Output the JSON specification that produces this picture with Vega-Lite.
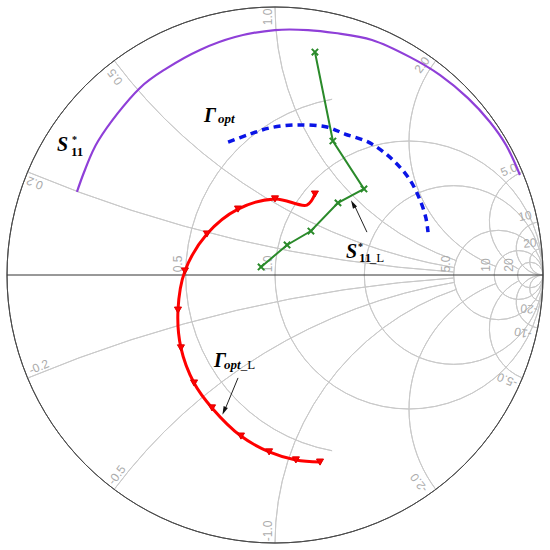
{
  "$schema": "https://vega.github.io/schema/vega-lite/v6.json",
  "width": 536,
  "height": 536,
  "autosize": {"type": "none"},
  "padding": 7,
  "background": "white",
  "config": {"view": {"stroke": null}},
  "datasets": {
    "grid": [
      {"name": "r0.5", "cx": 0.3333, "cy": 0, "rad": 0.6667, "t1": -169.6, "t2": -10.4},
      {"name": "r1", "cx": 0.5, "cy": 0, "rad": 0.5, "t1": 0, "t2": 360},
      {"name": "r2", "cx": 0.6667, "cy": 0, "rad": 0.3333, "t1": 0, "t2": 360},
      {"name": "r5", "cx": 0.8333, "cy": 0, "rad": 0.1667, "t1": 0, "t2": 360},
      {"name": "r10", "cx": 0.9091, "cy": 0, "rad": 0.0909, "t1": 0, "t2": 360},
      {"name": "r20", "cx": 0.9524, "cy": 0, "rad": 0.0476, "t1": 0, "t2": 360},
      {"name": "x0.2", "cx": 1, "cy": 5, "rad": 5, "t1": -176.18, "t2": -157.38},
      {"name": "x-0.2", "cx": 1, "cy": -5, "rad": 5, "t1": 337.38, "t2": 356.18},
      {"name": "x0.5", "cx": 1, "cy": 2, "rad": 2, "t1": -170.48, "t2": -126.87},
      {"name": "x-0.5", "cx": 1, "cy": -2, "rad": 2, "t1": 306.87, "t2": 350.48},
      {"name": "x1", "cx": 1, "cy": 1, "rad": 1, "t1": -161.08, "t2": -90},
      {"name": "x-1", "cx": 1, "cy": -1, "rad": 1, "t1": 270, "t2": 341.08},
      {"name": "x2", "cx": 1, "cy": 0.5, "rad": 0.5, "t1": -159.39, "t2": -53.13},
      {"name": "x-2", "cx": 1, "cy": -0.5, "rad": 0.5, "t1": 233.13, "t2": 339.39},
      {"name": "x5", "cx": 1, "cy": 0.2, "rad": 0.2, "t1": -153.22, "t2": -22.62},
      {"name": "x-5", "cx": 1, "cy": -0.2, "rad": 0.2, "t1": 202.62, "t2": 333.22},
      {"name": "x10", "cx": 1, "cy": 0.1, "rad": 0.1, "t1": -180, "t2": -11.42},
      {"name": "x-10", "cx": 1, "cy": -0.1, "rad": 0.1, "t1": 191.42, "t2": 360},
      {"name": "x20", "cx": 1, "cy": 0.05, "rad": 0.05, "t1": -180, "t2": -5.72},
      {"name": "x-20", "cx": 1, "cy": -0.05, "rad": 0.05, "t1": 185.72, "t2": 360}
    ],
    "outer": [{"cx": 0, "cy": 0, "rad": 1, "t1": 0, "t2": 360}],
    "axisline": [{"x": -1, "y": 0, "x2": 1, "y2": 0}],
    "gridlabels": [
      {"t": "0.2", "x": -0.896, "y": 0.343, "ang": 202.6},
      {"t": "0.5", "x": -0.597, "y": 0.739, "ang": 233.1},
      {"t": "1.0", "x": -0.026, "y": 0.963, "ang": 270},
      {"t": "2.0", "x": 0.549, "y": 0.784, "ang": 306.9},
      {"t": "5.0", "x": 0.873, "y": 0.392, "ang": 337.4},
      {"t": "10", "x": 0.933, "y": 0.22, "ang": 348.6},
      {"t": "20", "x": 0.951, "y": 0.119, "ang": 354.3},
      {"t": "-0.2", "x": -0.881, "y": -0.343, "ang": 337.4},
      {"t": "-0.5", "x": -0.59, "y": -0.746, "ang": 306.9},
      {"t": "-1.0", "x": -0.026, "y": -0.955, "ang": 270},
      {"t": "-2.0", "x": 0.537, "y": -0.776, "ang": 233.1},
      {"t": "-5.0", "x": 0.866, "y": -0.392, "ang": 202.6},
      {"t": "-10", "x": 0.925, "y": -0.216, "ang": 191.4},
      {"t": "-20", "x": 0.948, "y": -0.127, "ang": 185.7},
      {"t": "0.5", "x": -0.362, "y": 0.041, "ang": 270},
      {"t": "1.0", "x": -0.026, "y": 0.041, "ang": 270},
      {"t": "5.0", "x": 0.638, "y": 0.041, "ang": 270},
      {"t": "10", "x": 0.787, "y": 0.037, "ang": 270},
      {"t": "20", "x": 0.873, "y": 0.037, "ang": 270}
    ],
    "s11": [
      {"i": 0, "x": -0.739, "y": 0.31},
      {"i": 1, "x": -0.71, "y": 0.39},
      {"i": 2, "x": -0.66, "y": 0.5},
      {"i": 4, "x": -0.504, "y": 0.698},
      {"i": 5, "x": -0.403, "y": 0.772},
      {"i": 6, "x": -0.28, "y": 0.84},
      {"i": 7, "x": -0.149, "y": 0.888},
      {"i": 8, "x": 0, "y": 0.914},
      {"i": 9, "x": 0.123, "y": 0.914},
      {"i": 10, "x": 0.224, "y": 0.903},
      {"i": 11, "x": 0.362, "y": 0.877},
      {"i": 12, "x": 0.504, "y": 0.813},
      {"i": 13, "x": 0.616, "y": 0.746},
      {"i": 14, "x": 0.72, "y": 0.66},
      {"i": 15, "x": 0.802, "y": 0.571},
      {"i": 16, "x": 0.862, "y": 0.485},
      {"i": 17, "x": 0.914, "y": 0.373}
    ],
    "gopt": [
      {"i": 0, "x": -0.175, "y": 0.496},
      {"i": 1, "x": -0.104, "y": 0.522},
      {"i": 2, "x": -0.019, "y": 0.549},
      {"i": 3, "x": 0.082, "y": 0.56},
      {"i": 4, "x": 0.194, "y": 0.552},
      {"i": 5, "x": 0.261, "y": 0.526},
      {"i": 6, "x": 0.354, "y": 0.493},
      {"i": 7, "x": 0.44, "y": 0.429},
      {"i": 8, "x": 0.504, "y": 0.354},
      {"i": 9, "x": 0.541, "y": 0.28},
      {"i": 10, "x": 0.563, "y": 0.213},
      {"i": 11, "x": 0.571, "y": 0.16}
    ],
    "s11L": [
      {"i": 0, "x": -0.052, "y": 0.03},
      {"i": 1, "x": 0.045, "y": 0.112},
      {"i": 2, "x": 0.134, "y": 0.164},
      {"i": 3, "x": 0.235, "y": 0.269},
      {"i": 4, "x": 0.332, "y": 0.321},
      {"i": 5, "x": 0.216, "y": 0.5},
      {"i": 6, "x": 0.149, "y": 0.832}
    ],
    "goptL": [
      {"i": 0, "x": 0.149, "y": 0.302, "m": true},
      {"i": 1, "x": 0.119, "y": 0.261, "m": false},
      {"i": 2, "x": 0, "y": 0.284, "m": true},
      {"i": 3, "x": -0.138, "y": 0.246, "m": true},
      {"i": 4, "x": -0.254, "y": 0.153, "m": true},
      {"i": 5, "x": -0.336, "y": 0.015, "m": true},
      {"i": 6, "x": -0.362, "y": -0.131, "m": true},
      {"i": 7, "x": -0.351, "y": -0.272, "m": true},
      {"i": 8, "x": -0.302, "y": -0.403, "m": true},
      {"i": 9, "x": -0.235, "y": -0.496, "m": true},
      {"i": 10, "x": -0.127, "y": -0.601, "m": true},
      {"i": 11, "x": -0.022, "y": -0.66, "m": true},
      {"i": 12, "x": 0.078, "y": -0.69, "m": true},
      {"i": 13, "x": 0.168, "y": -0.698, "m": true}
    ],
    "arrows": [
      {"x": 0.343, "y": 0.16, "x2": 0.299, "y2": 0.254, "hx": 0.291, "hy": 0.265, "ang": 331},
      {"x": -0.138, "y": -0.384, "x2": -0.183, "y2": -0.493, "hx": -0.19, "hy": -0.507, "ang": 203.4}
    ],
    "bigsym": [
      {"t": "S", "x": -0.813, "y": 0.463},
      {"t": "Γ", "x": -0.265, "y": 0.571},
      {"t": "S", "x": 0.265, "y": 0.063},
      {"t": "Γ", "x": -0.228, "y": -0.343}
    ],
    "star": [
      {"t": "*", "x": -0.757, "y": 0.492},
      {"t": "*", "x": 0.31, "y": 0.093}
    ],
    "subbold": [
      {"t": "11", "x": -0.761, "y": 0.444},
      {"t": "11", "x": 0.313, "y": 0.0485}
    ],
    "subital": [
      {"t": "opt", "x": -0.213, "y": 0.567},
      {"t": "opt", "x": -0.19, "y": -0.351}
    ],
    "subL": [
      {"t": "_L", "x": 0.354, "y": 0.0485},
      {"t": "_L", "x": -0.128, "y": -0.351}
    ]
  },
  "layer": [
    {
      "data": {"name": "grid"},
      "mark": {"type": "arc", "filled": false, "stroke": "#c9c9c9", "strokeWidth": 1},
      "encoding": {
        "x": {"field": "cx", "type": "quantitative", "scale": {"domain": [-1, 1], "nice": false, "zero": false}, "axis": null},
        "y": {"field": "cy", "type": "quantitative", "scale": {"domain": [-1, 1], "nice": false, "zero": false}, "axis": null},
        "theta": {"field": "t1", "type": "quantitative", "stack": null, "scale": {"domain": [0, 360], "range": [0, 6.283185307179586], "nice": false, "zero": false}},
        "theta2": {"field": "t2"},
        "radius": {"field": "rad", "type": "quantitative", "scale": {"type": "linear", "domain": [0, 1], "range": [0, 268], "nice": false}},
        "radius2": {"field": "rad"}
      }
    },
    {
      "data": {"name": "outer"},
      "mark": {"type": "arc", "filled": false, "stroke": "#4a4a4a", "strokeWidth": 1},
      "encoding": {
        "x": {"field": "cx", "type": "quantitative", "axis": null},
        "y": {"field": "cy", "type": "quantitative", "axis": null},
        "theta": {"field": "t1", "type": "quantitative", "stack": null},
        "theta2": {"field": "t2"},
        "radius": {"field": "rad", "type": "quantitative"},
        "radius2": {"field": "rad"}
      }
    },
    {
      "data": {"name": "axisline"},
      "mark": {"type": "rule", "stroke": "#333333", "strokeWidth": 1},
      "encoding": {
        "x": {"field": "x", "type": "quantitative", "axis": null},
        "y": {"field": "y", "type": "quantitative", "axis": null},
        "x2": {"field": "x2"},
        "y2": {"field": "y2"}
      }
    },
    {
      "data": {"name": "gridlabels"},
      "mark": {"type": "text", "font": "Liberation Sans", "fontSize": 12, "fill": "#ababab", "align": "center", "baseline": "middle"},
      "encoding": {
        "x": {"field": "x", "type": "quantitative", "axis": null},
        "y": {"field": "y", "type": "quantitative", "axis": null},
        "text": {"field": "t"},
        "angle": {"field": "ang", "type": "quantitative", "scale": {"domain": [0, 360], "range": [0, 360]}}
      }
    },
    {
      "data": {"name": "s11"},
      "mark": {"type": "line", "stroke": "#8f3fd8", "strokeWidth": 2.2, "interpolate": "catmull-rom"},
      "encoding": {
        "x": {"field": "x", "type": "quantitative", "axis": null},
        "y": {"field": "y", "type": "quantitative", "axis": null},
        "order": {"field": "i"}
      }
    },
    {
      "data": {"name": "gopt"},
      "mark": {"type": "line", "stroke": "#0a14e6", "strokeWidth": 3.5, "strokeDash": [7, 5], "interpolate": "catmull-rom"},
      "encoding": {
        "x": {"field": "x", "type": "quantitative", "axis": null},
        "y": {"field": "y", "type": "quantitative", "axis": null},
        "order": {"field": "i"}
      }
    },
    {
      "data": {"name": "s11L"},
      "mark": {"type": "line", "stroke": "#2a8a2a", "strokeWidth": 2},
      "encoding": {
        "x": {"field": "x", "type": "quantitative", "axis": null},
        "y": {"field": "y", "type": "quantitative", "axis": null},
        "order": {"field": "i"}
      }
    },
    {
      "data": {"name": "s11L"},
      "mark": {"type": "point", "shape": "M-1,-1L1,1M-1,1L1,-1", "filled": false, "stroke": "#2a8a2a", "strokeWidth": 2, "size": 40, "opacity": 1},
      "encoding": {
        "x": {"field": "x", "type": "quantitative", "axis": null},
        "y": {"field": "y", "type": "quantitative", "axis": null}
      }
    },
    {
      "data": {"name": "goptL"},
      "mark": {"type": "line", "stroke": "#ff0000", "strokeWidth": 3, "interpolate": "catmull-rom"},
      "encoding": {
        "x": {"field": "x", "type": "quantitative", "axis": null},
        "y": {"field": "y", "type": "quantitative", "axis": null},
        "order": {"field": "i"}
      }
    },
    {
      "data": {"name": "goptL"},
      "transform": [{"filter": "datum.m"}],
      "mark": {"type": "point", "shape": "triangle-down", "filled": true, "fill": "#ff0000", "stroke": "#e00000", "strokeWidth": 1, "size": 50, "opacity": 1},
      "encoding": {
        "x": {"field": "x", "type": "quantitative", "axis": null},
        "y": {"field": "y", "type": "quantitative", "axis": null}
      }
    },
    {
      "data": {"name": "arrows"},
      "mark": {"type": "rule", "stroke": "#222222", "strokeWidth": 1},
      "encoding": {
        "x": {"field": "x", "type": "quantitative", "axis": null},
        "y": {"field": "y", "type": "quantitative", "axis": null},
        "x2": {"field": "x2"},
        "y2": {"field": "y2"}
      }
    },
    {
      "data": {"name": "arrows"},
      "mark": {"type": "point", "shape": "M0,-1L0.55,1L-0.55,1Z", "filled": true, "fill": "#111111", "size": 70, "opacity": 1},
      "encoding": {
        "x": {"field": "hx", "type": "quantitative", "axis": null},
        "y": {"field": "hy", "type": "quantitative", "axis": null},
        "angle": {"field": "ang", "type": "quantitative", "scale": {"domain": [0, 360], "range": [0, 360]}}
      }
    },
    {
      "data": {"name": "bigsym"},
      "mark": {"type": "text", "font": "Liberation Serif", "fontSize": 20, "fontWeight": "bold", "fontStyle": "italic", "fill": "#000000", "align": "left", "baseline": "alphabetic"},
      "encoding": {
        "x": {"field": "x", "type": "quantitative", "axis": null},
        "y": {"field": "y", "type": "quantitative", "axis": null},
        "text": {"field": "t"}
      }
    },
    {
      "data": {"name": "star"},
      "mark": {"type": "text", "font": "Liberation Serif", "fontSize": 10, "fontWeight": "bold", "fill": "#000000", "align": "left", "baseline": "alphabetic"},
      "encoding": {
        "x": {"field": "x", "type": "quantitative", "axis": null},
        "y": {"field": "y", "type": "quantitative", "axis": null},
        "text": {"field": "t"}
      }
    },
    {
      "data": {"name": "subbold"},
      "mark": {"type": "text", "font": "Liberation Serif", "fontSize": 13, "fontWeight": "bold", "fill": "#000000", "align": "left", "baseline": "alphabetic"},
      "encoding": {
        "x": {"field": "x", "type": "quantitative", "axis": null},
        "y": {"field": "y", "type": "quantitative", "axis": null},
        "text": {"field": "t"}
      }
    },
    {
      "data": {"name": "subital"},
      "mark": {"type": "text", "font": "Liberation Serif", "fontSize": 13, "fontWeight": "bold", "fontStyle": "italic", "fill": "#000000", "align": "left", "baseline": "alphabetic"},
      "encoding": {
        "x": {"field": "x", "type": "quantitative", "axis": null},
        "y": {"field": "y", "type": "quantitative", "axis": null},
        "text": {"field": "t"}
      }
    },
    {
      "data": {"name": "subL"},
      "mark": {"type": "text", "font": "Liberation Serif", "fontSize": 13, "fill": "#000000", "align": "left", "baseline": "alphabetic"},
      "encoding": {
        "x": {"field": "x", "type": "quantitative", "axis": null},
        "y": {"field": "y", "type": "quantitative", "axis": null},
        "text": {"field": "t"}
      }
    }
  ]
}
